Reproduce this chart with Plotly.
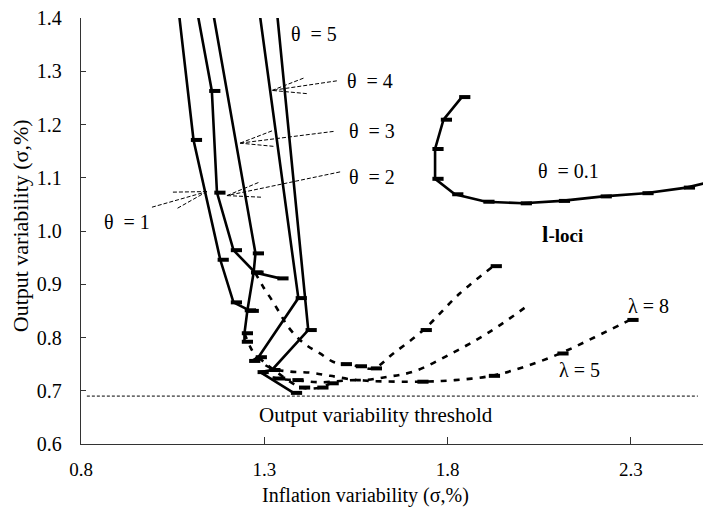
import plotly.graph_objects as go

# ---------------- data ----------------
x_ticks = [0.8, 1.3, 1.8, 2.3]
y_ticks = [0.6, 0.7, 0.8, 0.9, 1.0, 1.1, 1.2, 1.3, 1.4]

# theta curves (solid)
theta1_x = [1.066, 1.107, 1.180, 1.216, 1.262]
theta1_y = [1.416, 1.171, 0.946, 0.866, 0.850]
theta2_x = [1.116, 1.157, 1.171, 1.216, 1.275, 1.343]
theta2_y = [1.416, 1.263, 1.072, 0.964, 0.922, 0.911]
theta3_x = [1.159, 1.276, 1.271, 1.254, 1.246, 1.246]
theta3_y = [1.416, 0.958, 0.922, 0.851, 0.808, 0.792]
theta4_x = [1.286, 1.393, 1.284, 1.266]
theta4_y = [1.416, 0.874, 0.763, 0.756]
theta5_x = [1.334, 1.420, 1.321, 1.289, 1.380]
theta5_y = [1.416, 0.814, 0.739, 0.735, 0.696]
theta01_x = [1.839, 1.789, 1.766, 1.766, 1.820, 1.905, 2.007, 2.111, 2.225, 2.339, 2.452, 2.51]
theta01_y = [1.2515, 1.209, 1.154, 1.098, 1.069, 1.055, 1.052, 1.0565, 1.065, 1.071, 1.0815, 1.091]

# lambda loci (dashed)
lociP_x = [1.275, 1.298, 1.321, 1.343, 1.362, 1.389, 1.416, 1.452, 1.489, 1.516, 1.557, 1.598, 1.652, 1.734, 1.834, 1.925]
lociP_y = [0.922, 0.894, 0.870, 0.845, 0.823, 0.801, 0.785, 0.770, 0.754, 0.750, 0.746, 0.742, 0.770, 0.814, 0.883, 0.934]
lociP_mx = [1.516, 1.557, 1.598, 1.734, 1.925]
lociP_my = [0.750, 0.746, 0.742, 0.814, 0.934]

lociQ_x = [1.246, 1.262, 1.285, 1.320, 1.370, 1.425, 1.480, 1.561, 1.634, 1.707, 1.811, 1.916, 2.025]
lociQ_y = [0.808, 0.782, 0.758, 0.742, 0.736, 0.734, 0.728, 0.720, 0.726, 0.736, 0.770, 0.811, 0.863]

lociR_x = [1.289, 1.334, 1.384, 1.452, 1.548, 1.600, 1.725, 1.820, 1.920, 2.010, 2.107, 2.200, 2.298]
lociR_y = [0.735, 0.723, 0.720, 0.716, 0.720, 0.718, 0.717, 0.720, 0.728, 0.745, 0.770, 0.800, 0.833]
lociR_mx = [1.334, 1.384, 1.725, 1.920, 2.107, 2.298]
lociR_my = [0.723, 0.720, 0.717, 0.728, 0.770, 0.833]

lociS_x = [1.284, 1.334, 1.402, 1.452, 1.480]
lociS_y = [0.763, 0.735, 0.706, 0.706, 0.714]
lociS_mx = [1.402, 1.452, 1.480]
lociS_my = [0.706, 0.706, 0.714]

# threshold
threshold_y = 0.690
threshold_x = [0.816, 2.483]

# labels: (text, x, y)
labels = [
    ("θ\u00a0 = 5", 1.437, 1.370),
    ("θ\u00a0 = 4", 1.588, 1.282),
    ("θ\u00a0 = 3", 1.594, 1.188),
    ("θ\u00a0 = 2", 1.594, 1.101),
    ("θ\u00a0 = 1", 0.926, 1.017),
    ("θ\u00a0 = 0.1", 2.129, 1.112),
    ("λ = 8", 2.347, 0.860),
    ("λ = 5", 2.159, 0.739),
]
threshold_label = ("Output variability threshold", 1.605, 0.654)
loci_label = ("<b><span style='font-size:23px'>l</span>-loci</b>", 2.114, 0.993)
x_title = ("Inflation variability (σ,%)", 1.575)
y_title = ("Output variability (σ,%)", 1.009)

# arrows: start(text end), tip, head1, head2
arrows = [
    ((1.498, 1.282), (1.321, 1.264), (1.407, 1.287), (1.416, 1.258)),
    ((1.489, 1.187), (1.234, 1.165), (1.321, 1.188), (1.325, 1.159)),
    ((1.507, 1.111), (1.198, 1.0665), (1.284, 1.091), (1.291, 1.0635)),
    ((0.9936, 1.0447), (1.1435, 1.074), (1.0508, 1.073), (1.0634, 1.0428)),
]

FONT = "Times New Roman, Liberation Serif, serif"
MARKER_DX = 0.008  # dash markers sit slightly right of the vertex
marker_style = dict(symbol="line-ew", size=8, color="black", line=dict(width=4, color="black"))

fig = go.Figure()

for xs, ys in [(theta1_x, theta1_y), (theta2_x, theta2_y), (theta3_x, theta3_y),
               (theta4_x, theta4_y), (theta5_x, theta5_y), (theta01_x, theta01_y)]:
    fig.add_trace(go.Scatter(x=xs, y=ys, mode="lines",
                             line=dict(color="black", width=2.6), showlegend=False))
    fig.add_trace(go.Scatter(x=[v + MARKER_DX for v in xs], y=ys, mode="markers",
                             marker=marker_style, showlegend=False))

for xs, ys in [(lociP_x, lociP_y), (lociQ_x, lociQ_y), (lociR_x, lociR_y), (lociS_x, lociS_y)]:
    fig.add_trace(go.Scatter(x=xs, y=ys, mode="lines", line_shape="spline",
                             line=dict(color="black", width=2.6, dash="6px,7px"),
                             showlegend=False))

for xs, ys in [(lociP_mx, lociP_my), (lociR_mx, lociR_my), (lociS_mx, lociS_my)]:
    fig.add_trace(go.Scatter(x=[v + MARKER_DX for v in xs], y=ys, mode="markers",
                             marker=marker_style, showlegend=False))

shapes = [dict(type="line", xref="x", yref="y", x0=threshold_x[0], x1=threshold_x[1],
               y0=threshold_y, y1=threshold_y, line=dict(color="black", width=1, dash="3px,2px"))]
for start, tip, h1, h2 in arrows:
    for p in (start, h1, h2):
        shapes.append(dict(type="line", xref="x", yref="y", x0=p[0], y0=p[1], x1=tip[0], y1=tip[1],
                           line=dict(color="black", width=1, dash="4px,2px")))

annotations = []
for t, x, y in labels:
    annotations.append(dict(text=t, x=x, y=y, xref="x", yref="y", showarrow=False,
                            font=dict(family=FONT, size=20, color="black")))
annotations.append(dict(text=threshold_label[0], x=threshold_label[1], y=threshold_label[2],
                        xref="x", yref="y", showarrow=False,
                        font=dict(family=FONT, size=21, color="black")))
annotations.append(dict(text=loci_label[0], x=loci_label[1], y=loci_label[2], xref="x", yref="y",
                        showarrow=False, font=dict(family=FONT, size=19, color="black")))
annotations.append(dict(text=x_title[0], x=x_title[1], xref="x", y=-0.122, yref="paper",
                        yanchor="middle", showarrow=False,
                        font=dict(family=FONT, size=20, color="black")))
annotations.append(dict(text=y_title[0], y=y_title[1], yref="y", x=-0.098, xref="paper",
                        xanchor="center", yanchor="middle", textangle=-90, showarrow=False,
                        font=dict(family=FONT, size=22, color="black")))

fig.update_layout(
    width=709, height=510,
    margin=dict(l=81, r=6, t=18, b=66),
    paper_bgcolor="white", plot_bgcolor="white",
    font=dict(family=FONT, size=19, color="black"),
    shapes=shapes, annotations=annotations,
    xaxis=dict(range=[0.8, 2.497], tickvals=x_ticks, ticktext=[f"{v:.1f}" for v in x_ticks],
               showgrid=False, zeroline=False, showline=True, linecolor="#333", linewidth=1.3,
               ticks="inside", ticklen=7, tickcolor="#333", ticklabelstandoff=8,
               tickfont=dict(family=FONT, size=19)),
    yaxis=dict(range=[0.6, 1.4], tickvals=y_ticks, ticktext=[f"{v:.1f}" for v in y_ticks],
               showgrid=False, zeroline=False, showline=True, linecolor="#333", linewidth=1.3,
               ticks="inside", ticklen=5, tickcolor="#333", ticklabelstandoff=14,
               tickfont=dict(family=FONT, size=20)),
)

fig.write_html("out.html")
